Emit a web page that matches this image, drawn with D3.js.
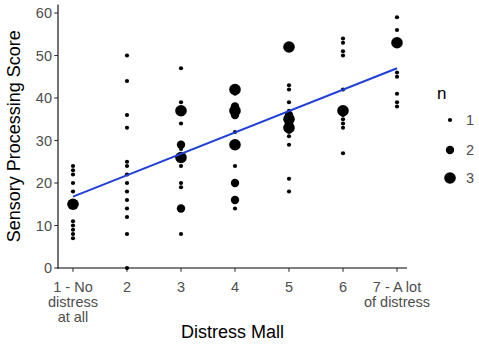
<!DOCTYPE html>
<html><head><meta charset="utf-8">
<script src="https://cdn.jsdelivr.net/npm/d3@7"></script>
<style>body{margin:0;background:#fff;} svg{display:block;font-family:"Liberation Sans",Arial,sans-serif;}</style>
</head><body>
<svg id="chart" width="479" height="344"></svg>
<script>
// ---- data ----
const distress = [1,1,1,1,1,1,1,1,1,1,1,
  2,2,2,2,2,2,2,2,2,2,2,2,2,2,
  3,3,3,3,3,3,3,3,3,3,3,3,
  4,4,4,4,4,4,4,4,4,4,4,
  5,5,5,5,5,5,5,5,5,5,5,5,5,5,
  6,6,6,6,6,6,6,6,6,6,6,
  7,7,7,7,7,7,7,7];
const score = [24,23,22,20,18,15,11,10,9,8,7,
  50,44,36,33,25,24,22,20,18,16,14,12,8,0,
  47,39,37,34,29,28,26,24,20,19,14,8,
  42,41,38,37,36,32,29,24,20,16,14,
  52,43,42,39,37,36,35,34,33,32,31,29,21,18,
  54,53,51,50,42,37,36,35,34,33,27,
  59,56,53,46,45,41,39,38];
const count = [1,1,1,1,1,3,1,1,1,1,1,
  1,1,1,1,1,1,1,1,1,1,1,1,1,1,
  1,1,3,1,2,1,3,1,1,1,2,1,
  3,1,2,3,2,1,3,1,2,2,1,
  3,1,1,1,1,2,3,2,3,1,1,1,1,1,
  1,1,1,1,1,3,1,1,1,1,1,
  1,1,3,1,1,1,1,1];
const xTicks = [1,2,3,4,5,6,7];
const xTickLabels = [["1 - No","distress","at all"],["2"],["3"],["4"],["5"],["6"],["7 - A lot","of distress"]];
const yTicks = [0,10,20,30,40,50,60];
const fitX = [1,7];
const fitY = [16.8,47.0];
const legendN = [1,2,3];

const pts = distress.map((d,i)=>({x:d,y:score[i],n:count[i]}));

// ---- layout ----
const svg = d3.select("#chart");
const panel = {left:58, right:407, top:4.5, bottom:268};
const x = d3.scaleLinear().domain([1,7]).range([73,397]);
const y = d3.scaleLinear().domain([0,62]).range([268,4.5]);
const r = d3.scaleSqrt().domain([1,3]).range([2.1,5.8]);
const tickCol = "#4D4D4D";

// axes lines
svg.append("line").attr("x1",panel.left).attr("x2",panel.left).attr("y1",panel.top).attr("y2",panel.bottom+0.5)
  .attr("stroke","#000").attr("stroke-width",1.1);
svg.append("line").attr("x1",panel.left-0.5).attr("x2",panel.right).attr("y1",panel.bottom).attr("y2",panel.bottom)
  .attr("stroke","#000").attr("stroke-width",1.1);

// y ticks
const yg = svg.append("g");
yTicks.forEach(t=>{
  yg.append("line").attr("x1",panel.left-3.7).attr("x2",panel.left).attr("y1",y(t)).attr("y2",y(t)).attr("stroke","#333").attr("stroke-width",1.1);
  yg.append("text").attr("x",panel.left-6).attr("y",y(t)).attr("dy","0.36em").attr("text-anchor","end")
    .attr("font-size",14.5).attr("fill",tickCol).text(t);
});
// x ticks
const xg = svg.append("g");
xTicks.forEach((t,i)=>{
  xg.append("line").attr("x1",x(t)).attr("x2",x(t)).attr("y1",panel.bottom).attr("y2",panel.bottom+3.7).attr("stroke","#333").attr("stroke-width",1.1);
  const tx = xg.append("text").attr("text-anchor","middle").attr("font-size",14.5).attr("fill",tickCol);
  xTickLabels[i].forEach((s,j)=>{
    tx.append("tspan").attr("x",x(t)).attr("y",292+j*14.8).text(s);
  });
});

// axis titles
svg.append("text").attr("x",(panel.left+panel.right)/2).attr("y",338).attr("text-anchor","middle")
  .attr("font-size",18).attr("fill","#000").text("Distress Mall");
svg.append("text").attr("transform",`translate(20,${(panel.top+panel.bottom)/2}) rotate(-90)`).attr("text-anchor","middle")
  .attr("font-size",18).attr("fill","#000").text("Sensory Processing Score");

// points
svg.append("g").selectAll("circle").data(pts).join("circle")
  .attr("cx",d=>x(d.x)).attr("cy",d=>y(d.y)).attr("r",d=>r(d.n)).attr("fill","#000");

// fit line
const line = d3.line().x(d=>x(d[0])).y(d=>y(d[1]));
svg.append("path").datum(fitX.map((v,i)=>[v,fitY[i]])).attr("d",line)
  .attr("fill","none").attr("stroke","#1f3fd9").attr("stroke-width",1.9);

// legend
const lg = svg.append("g");
lg.append("text").attr("x",437).attr("y",99).attr("font-size",17).attr("fill","#000").text("n");
const ly = [120,150,178];
legendN.forEach((n,i)=>{
  lg.append("circle").attr("cx",450).attr("cy",ly[i]).attr("r",r(n)).attr("fill","#000");
  lg.append("text").attr("x",466).attr("y",ly[i]).attr("dy","0.36em").attr("font-size",14.5).attr("fill",tickCol).text(n);
});
</script>
</body></html>
